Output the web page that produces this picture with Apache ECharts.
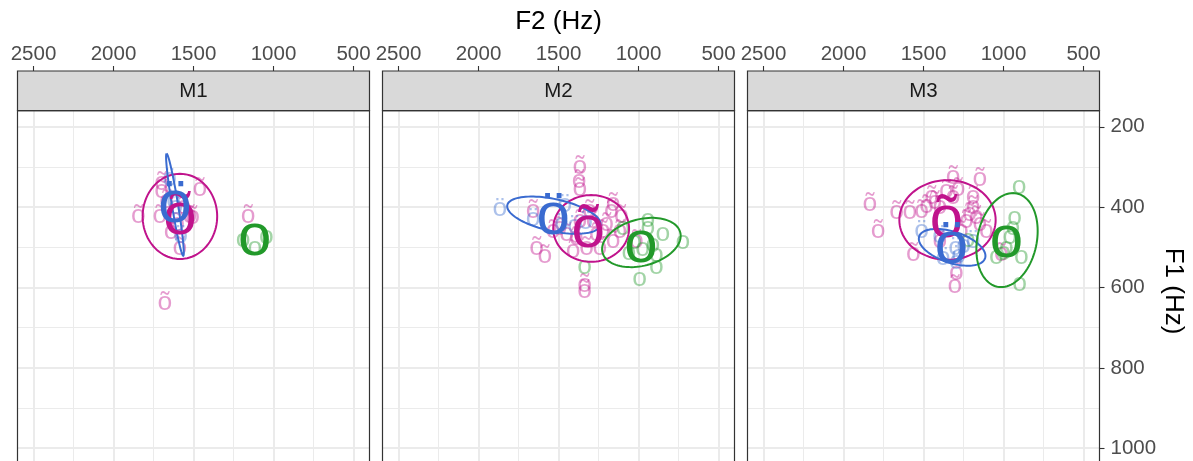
<!DOCTYPE html>
<html><head><meta charset="utf-8">
<script src="https://cdn.jsdelivr.net/npm/echarts@6/dist/echarts.min.js"></script>
<style>html,body{margin:0;padding:0;background:#fff}#c{width:1193px;height:461px}</style>
</head><body><div id="c"></div>
<script>
// ---------- data ----------
const panelNames = ['M1', 'M2', 'M3'];
const vowels = ['õ', 'ö', 'o'];
const xMajor = [500, 1000, 1500, 2000, 2500];
const xMinor = [750, 1250, 1750, 2250];
const yMajor = [200, 400, 600, 800, 1000];
const yMinor = [300, 500, 700, 900];

// tokens: [F2, F1]
const M1_otilde = [[1845,421],[1699,340],[1699,360],[1460,354],[1710,421],[1523,421],[1505,425],[1585,502],[1159,422],[1679,638],[1668,383],[1600,440],[1560,400],[1640,460]];
const M1_ouml = [[1650,330],[1625,385],[1610,400],[1580,470]];
const M1_o = [[1190,487],[1045,479],[1117,507]];

const M2_otilde = [[1367,300],[1371,333],[1367,354],[1658,408],[1637,500],[1585,521],[1336,593],[1336,608],[1169,408],[1107,421],[1013,483],[1408,508],[1450,467],[1263,467],[1159,483],[1200,442],[1284,433],[1367,433],[1242,500],[1117,458],[1492,450],[1325,500],[1388,475],[1159,392],[1533,458],[1305,408],[1221,458]];
const M2_ouml = [[1866,405],[1658,428],[1460,395],[1480,440],[1400,445],[1330,437]];
const M2_o = [[1336,554],[941,437],[941,458],[847,471],[723,492],[910,500],[889,525],[889,554],[993,583],[1097,458],[1024,492],[1060,520],[975,510]];

const M3_otilde = [[1835,392],[1783,458],[1668,412],[1585,412],[1512,408],[1481,396],[1429,387],[1564,517],[1315,325],[1148,329],[1284,354],[1190,375],[1315,375],[1211,417],[1148,442],[1107,458],[1232,433],[1398,400],[1190,400],[1294,562],[1304,596],[1013,517],[1263,458],[1398,483],[1450,375],[1357,358],[1170,425]];
const M3_ouml = [[1512,458],[1400,470],[1377,525],[1294,537],[1190,483],[1280,520],[1300,500],[1250,495]];
const M3_o = [[903,354],[930,433],[941,458],[889,529],[1045,529],[982,508],[899,596],[1221,487],[1000,520],[960,480]];

// vowel means [F2, F1] in order õ, ö, o
const M1_means = [[1585,426],[1616,396],[1117,491]];
const M2_means = [[1315,458],[1533,425],[985,510]];
const M3_means = [[1356,433],[1325,498],[982,496]];

// ellipses: [centreF2, centreF1, u_F2, u_F1, v_F2, v_F1, vowelIndex]
const M1_ellipses = [[1585,423,233,0,0,106,0],[1616,394,52,-127,-19,-1,1]];
const M2_ellipses = [[1296,453,-237,0,0,83,0],[1529,420,-291,25,21,39,1],[982,488,-243,-25,-36,56,2]];
const M3_ellipses = [[1350,432,-301,0,0,99,0],[1321,500,-206,27,30,37,1],[978,482,-37,-117,188,0,2]];

// ---------- style / layout ----------
const colors = ['#C0138C', '#3A6BD0', '#22992A'];
const lightColors = ['rgba(192,19,140,0.42)', 'rgba(58,107,208,0.42)', 'rgba(34,153,42,0.42)'];
const FONT = '"Liberation Sans", Arial, Helvetica, sans-serif';
const glyphShift = [0, 0, -0.09];
const L0 = 17.5, PW = 352, STEP = 365, PT = 110.7, PH = 353.6, ST = 71;
const plain = v => String(v);

const tokens = [[M1_otilde, M1_ouml, M1_o],[M2_otilde, M2_ouml, M2_o],[M3_otilde, M3_ouml, M3_o]];
const means = [M1_means, M2_means, M3_means];
const ellipses = [M1_ellipses, M2_ellipses, M3_ellipses];

const grids = [], xAxes = [], yAxes = [], series = [], graphics = [];
panelNames.forEach((name, i) => {
  const left = L0 + STEP * i;
  grids.push({left: left, top: PT, width: PW, height: PH, containLabel: false, outerBoundsMode: 'none'});
  xAxes.push({gridIndex: i, type: 'value', position: 'top', offset: PT - ST, min: 400, max: 2600, inverse: true,
    axisLine: {show: false},
    axisTick: {show: true, customValues: xMajor, length: 5, lineStyle: {color: '#333333', width: 1.1}},
    axisLabel: {show: true, customValues: xMajor, formatter: plain, margin: 6, fontSize: 20.5, color: '#4D4D4D', fontFamily: FONT},
    splitLine: {show: true, lineStyle: {color: '#EBEBEB', width: 2}}});
  xAxes.push({gridIndex: i, type: 'value', position: 'top', min: 400, max: 2600, inverse: true,
    axisLine: {show: false}, axisTick: {show: false, customValues: xMinor}, axisLabel: {show: false, customValues: xMinor},
    splitLine: {show: true, lineStyle: {color: '#EBEBEB', width: 1}}});
  const last = i === 2;
  yAxes.push({gridIndex: i, type: 'value', position: 'right', min: 160, max: 1040, inverse: true,
    axisLine: {show: false},
    axisTick: {show: last, customValues: yMajor, length: 5, lineStyle: {color: '#333333', width: 1.1}},
    axisLabel: {show: last, customValues: yMajor, formatter: plain, margin: 11, fontSize: 20.5, color: '#4D4D4D', fontFamily: FONT},
    splitLine: {show: true, lineStyle: {color: '#EBEBEB', width: 2}}});
  yAxes.push({gridIndex: i, type: 'value', position: 'right', min: 160, max: 1040, inverse: true,
    axisLine: {show: false}, axisTick: {show: false, customValues: yMinor}, axisLabel: {show: false, customValues: yMinor},
    splitLine: {show: true, lineStyle: {color: '#EBEBEB', width: 1}}});

  // small token labels
  const tokData = [];
  tokens[i].forEach((arr, v) => arr.forEach(p => tokData.push([p[0], p[1], v])));
  series.push({type: 'custom', xAxisIndex: 2*i, yAxisIndex: 2*i, z: 2, data: tokData, silent: true,
    renderItem: (params, api) => {
      const v = api.value(2); const fs = 26.5;
      const p = api.coord([api.value(0), api.value(1)]);
      return {type: 'text', x: p[0], y: p[1] + glyphShift[v]*fs,
        style: {text: vowels[v], fill: lightColors[v], fontSize: fs, fontFamily: FONT, align: 'center', verticalAlign: 'middle'}};
    }});
  // ellipses
  series.push({type: 'custom', xAxisIndex: 2*i, yAxisIndex: 2*i, z: 3, data: ellipses[i], silent: true,
    renderItem: (params, api) => {
      const cx = api.value(0), cy = api.value(1), u1 = api.value(2), u2 = api.value(3), w1 = api.value(4), w2 = api.value(5), v = api.value(6);
      const pts = [];
      for (let k = 0; k <= 96; k++) {
        const t = k / 96 * 2 * Math.PI;
        pts.push(api.coord([cx + u1*Math.cos(t) + w1*Math.sin(t), cy + u2*Math.cos(t) + w2*Math.sin(t)]));
      }
      return {type: 'polyline', shape: {points: pts}, style: {stroke: colors[v], fill: null, lineWidth: 2}};
    }});
  // mean labels
  const meanData = means[i].map((p, v) => [p[0], p[1], v]);
  series.push({type: 'custom', xAxisIndex: 2*i, yAxisIndex: 2*i, z: 4, data: meanData, silent: true,
    renderItem: (params, api) => {
      const v = api.value(2); const fs = 60;
      const p = api.coord([api.value(0), api.value(1)]);
      return {type: 'text', x: p[0], y: p[1] + glyphShift[v]*fs,
        style: {text: vowels[v], fill: colors[v], fontSize: fs, fontFamily: FONT, align: 'center', verticalAlign: 'middle'}};
    }});

  // strip + border
  graphics.push({type: 'rect', z: 100, shape: {x: left, y: ST, width: PW, height: PT - ST},
    style: {fill: '#D9D9D9', stroke: '#333333', lineWidth: 1.2}});
  graphics.push({type: 'text', z: 101, x: left + PW/2, y: (ST + PT)/2,
    style: {text: name, fill: '#1A1A1A', fontSize: 20.5, fontFamily: FONT, align: 'center', verticalAlign: 'middle'}});
  graphics.push({type: 'rect', z: 100, shape: {x: left, y: PT, width: PW, height: PH},
    style: {fill: null, stroke: '#333333', lineWidth: 1.2}});
});
graphics.push({type: 'text', z: 101, x: L0 + STEP + PW/2, y: 22,
  style: {text: 'F2 (Hz)', fill: '#000000', fontSize: 26, fontFamily: FONT, align: 'center', verticalAlign: 'middle'}});
graphics.push({type: 'text', z: 101, x: 1173, y: 291, rotation: -Math.PI/2,
  style: {text: 'F1 (Hz)', fill: '#000000', fontSize: 26, fontFamily: FONT, align: 'center', verticalAlign: 'middle'}});

const chart = echarts.init(document.getElementById('c'), null, {renderer: 'canvas'});
chart.setOption({animation: false, backgroundColor: '#ffffff', grid: grids, xAxis: xAxes, yAxis: yAxes, series: series, graphic: graphics});
</script></body></html>
